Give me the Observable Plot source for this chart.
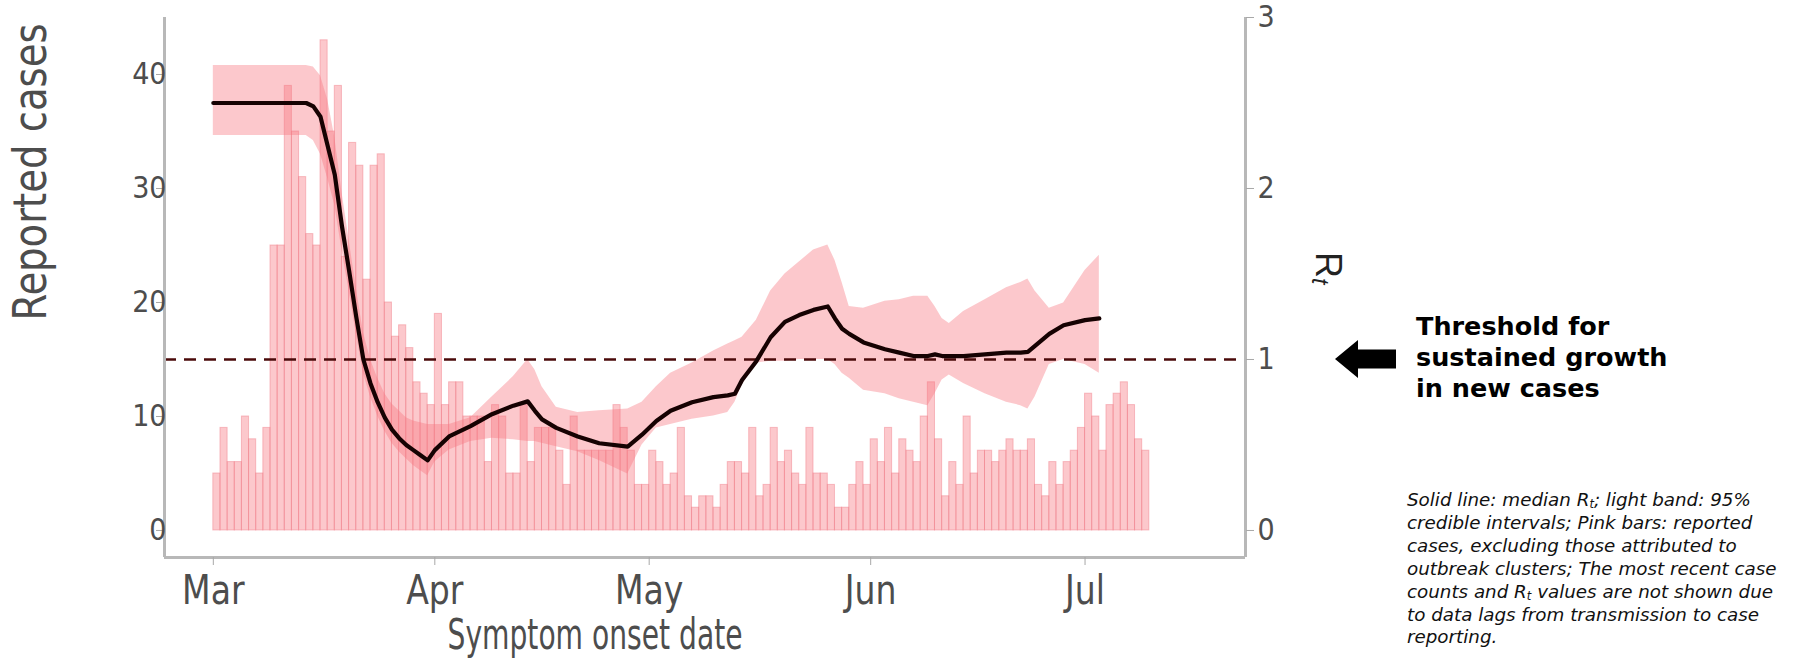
<!DOCTYPE html>
<html>
<head>
<meta charset="utf-8">
<script src="https://cdn.jsdelivr.net/npm/d3@7"></script>
<script src="https://cdn.jsdelivr.net/npm/@observablehq/plot@0.6"></script>
<style>
  html, body { margin: 0; padding: 0; background: #fff; overflow: hidden; }
  #wrap { position: relative; width: 1794px; height: 659px; overflow: hidden; }
  #chart { position: absolute; left: 0; top: 0; }
  #chart svg { overflow: visible; }
  #chart g[aria-label="y-axis tick"], #chart g[aria-label="x-axis tick"] { stroke: #a8a8a8; }
  #thr { position: absolute; left: 1416px; top: 311px; font-family: "DejaVu Sans", "Open Sans", sans-serif; font-weight: 700; font-size: 25.5px; line-height: 31px; color: #000; white-space: nowrap; }
  #cap { position: absolute; left: 1407px; top: 489px; font-family: "DejaVu Sans", "Open Sans", sans-serif; font-style: italic; font-size: 18.3px; line-height: 22.9px; color: #111; white-space: nowrap; }
  #cap sub { font-size: 11.5px; vertical-align: -2px; line-height: 0; }
  #rt { position: absolute; left: 1310px; top: 252px; width: 36px; height: 44px; writing-mode: vertical-rl; font-family: "Liberation Sans", Arial, sans-serif; font-size: 36px; line-height: 36px; color: #222; }
  #rt sub { font-size: 23px; font-style: italic; }
  #arrow { position: absolute; left: 1335px; top: 340px; }
</style>
</head>
<body>
<div id="wrap">
  <div id="chart"></div>
  <div id="rt">R<sub>t</sub></div>
  <svg id="arrow" width="62" height="38" viewBox="0 0 62 38"><polygon points="0,19 23,0 23,9.5 61,9.5 61,28.5 23,28.5 23,38" fill="#000"/></svg>
  <div id="thr">Threshold for<br>sustained growth<br>in new cases</div>
  <div id="cap">Solid line: median R<sub>t</sub>; light band: 95%<br>credible intervals; Pink bars: reported<br>cases, excluding those attributed to<br>outbreak clusters; The most recent case<br>counts and R<sub>t</sub> values are not shown due<br>to data lags from transmission to case<br>reporting.</div>
</div>
<script>
// ---- Data ----
const firstCaseDate = "2020-03-01";
// Daily reported cases, Mar 1 – Jul 9 2020
const casesMar = [5,9,6,6,10,8,5,9,25,25,39,35,31,26,25,43,35,39,24,34,32,22,32,33,20,17,18,16,13,12,11];
const casesApr = [19,11,13,13,10,10,10,6,11,10,5,5,11,6,9,9,9,7,4,10,7,7,7,7,7,11,9,7,4,4];
const casesMay = [7,6,4,5,9,3,2,3,3,2,4,6,6,5,9,3,4,9,6,7,5,4,9,5,5,4,2,2,4,6,4];
const casesJun = [8,6,9,5,8,7,6,10,13,8,3,6,4,10,5,7,7,6,7,8,7,7,8,4,3,6,4,6,7,9];
const casesJul = [12,10,7,11,12,13,11,8,7];

// Rt estimates (median, lower and upper 95% credible interval)
const rtDates = ["2020-03-01","2020-03-14","2020-03-15","2020-03-16","2020-03-17","2020-03-18","2020-03-19","2020-03-20","2020-03-21","2020-03-22","2020-03-23","2020-03-24","2020-03-25","2020-03-26","2020-03-27","2020-03-28","2020-03-29","2020-03-30","2020-03-31","2020-04-01","2020-04-03","2020-04-06","2020-04-09","2020-04-12","2020-04-14","2020-04-15","2020-04-16","2020-04-18","2020-04-21","2020-04-24","2020-04-28","2020-04-30","2020-05-02","2020-05-04","2020-05-07","2020-05-10","2020-05-12","2020-05-13","2020-05-14","2020-05-16","2020-05-18","2020-05-20","2020-05-22","2020-05-24","2020-05-26","2020-05-27","2020-05-28","2020-05-29","2020-05-31","2020-06-03","2020-06-05","2020-06-07","2020-06-09","2020-06-10","2020-06-11","2020-06-12","2020-06-14","2020-06-17","2020-06-20","2020-06-22","2020-06-23","2020-06-24","2020-06-26","2020-06-28","2020-07-01","2020-07-03"];
const rtMedian = [2.50,2.50,2.48,2.42,2.25,2.08,1.78,1.52,1.25,1.00,0.86,0.75,0.66,0.59,0.54,0.50,0.47,0.44,0.41,0.47,0.55,0.61,0.68,0.73,0.755,0.70,0.65,0.60,0.55,0.51,0.49,0.56,0.64,0.70,0.75,0.78,0.79,0.80,0.88,0.99,1.13,1.22,1.26,1.29,1.31,1.24,1.18,1.15,1.10,1.06,1.04,1.02,1.02,1.03,1.02,1.02,1.02,1.03,1.04,1.04,1.045,1.08,1.15,1.20,1.23,1.24];
const rtLower = [2.31,2.31,2.28,2.20,2.06,1.90,1.64,1.40,1.15,0.92,0.78,0.67,0.58,0.51,0.46,0.42,0.38,0.35,0.32,0.40,0.47,0.52,0.54,0.53,0.52,0.52,0.51,0.49,0.46,0.41,0.33,0.50,0.60,0.62,0.65,0.67,0.69,0.75,0.85,0.98,0.99,0.99,1.00,1.00,1.00,0.97,0.92,0.89,0.82,0.80,0.77,0.75,0.73,0.80,0.88,0.91,0.86,0.80,0.75,0.73,0.71,0.78,0.97,1.00,0.97,0.92];
const rtUpper = [2.72,2.72,2.71,2.66,2.52,2.30,1.98,1.70,1.42,1.16,1.00,0.89,0.80,0.74,0.70,0.66,0.64,0.63,0.62,0.62,0.62,0.66,0.78,0.90,1.00,0.94,0.84,0.72,0.69,0.70,0.71,0.75,0.84,0.92,0.98,1.05,1.09,1.11,1.13,1.23,1.40,1.50,1.57,1.64,1.67,1.58,1.45,1.31,1.30,1.34,1.35,1.37,1.37,1.31,1.24,1.21,1.28,1.35,1.42,1.45,1.47,1.40,1.30,1.33,1.52,1.61];

const rtThreshold = [1];
const leftTicks = [0,10,20,30,40];
const rightTickLabels = [0,1,2,3];
const monthTicks = ["2020-03-01","2020-04-01","2020-05-01","2020-06-01","2020-07-01"];

// ---- Build tables ----
const RT = 15; // 1 unit of Rt on the right axis = 15 reported cases on the left axis
const allCases = [...casesMar, ...casesApr, ...casesMay, ...casesJun, ...casesJul];
const d0 = new Date(firstCaseDate + "T00:00Z");
const bars = allCases.map((n, i) => ({
  d1: d3.utcDay.offset(d0, i),
  d2: d3.utcDay.offset(d0, i + 1),
  n
}));
const rt = rtDates.map((s, i) => ({
  date: new Date(s + "T00:00Z"),
  med: rtMedian[i], lo: rtLower[i], hi: rtUpper[i]
}));

const xDomain = [new Date("2020-02-23T04:00Z"), new Date("2020-07-23T11:00Z")];
const yDomain = [-2.37, 45];
const axisGray = "#b8b8b8";
const textGray = "#4d4d4d";
const condensed = '"DejaVu Sans Condensed", "Liberation Sans Narrow", "Liberation Sans", Arial, sans-serif';

const chart = Plot.plot({
  width: 1794,
  height: 659,
  marginLeft: 164,
  marginRight: 549,
  marginTop: 17,
  marginBottom: 102,
  x: { type: "utc", domain: xDomain },
  y: { domain: yDomain },
  style: { fontFamily: condensed, background: "transparent" },
  marks: [
    Plot.rectY(bars, { x1: "d1", x2: "d2", y: "n", fill: "#f7767f", fillOpacity: 0.4, stroke: "#f07a84", strokeOpacity: 0.45, strokeWidth: 1 }),
    Plot.areaY(rt, { x: "date", y1: d => d.lo * RT, y2: d => d.hi * RT, fill: "#f7767f", fillOpacity: 0.4 }),
    Plot.ruleY(rtThreshold, { y: d => d * RT, stroke: "#4a0a0a", strokeWidth: 2.6, strokeDasharray: "12,8" }),
    Plot.lineY(rt, { x: "date", y: d => d.med * RT, stroke: "#160202", strokeWidth: 4.2, curve: "linear" }),
    Plot.ruleX([xDomain[0], xDomain[1]], { stroke: axisGray, strokeWidth: 3 }),
    Plot.ruleY([yDomain[0]], { stroke: axisGray, strokeWidth: 3 }),
    Plot.axisY(leftTicks, { anchor: "left", tickSize: 8, tickPadding: -10, fontSize: 30, color: textGray, label: null }),
    Plot.axisY(rightTickLabels.map(v => v * RT), { anchor: "right", tickSize: 8, tickPadding: 4, fontSize: 30, color: textGray, tickFormat: v => v / RT, label: null }),
    Plot.axisX(monthTicks.map(s => new Date(s + "T00:00Z")), { anchor: "bottom", tickSize: 8, tickPadding: 10, fontSize: 40, color: textGray, tickFormat: d3.utcFormat("%b"), label: null }),
    Plot.text(["Reported cases"], { text: d => d, frameAnchor: "left", dx: -133, dy: 33, rotate: -90, fontSize: 46, fill: textGray, lineAnchor: "middle" }),
    Plot.text(["Symptom onset date"], { text: d => d, frameAnchor: "bottom", dx: -110, dy: 78, fontSize: 42, fill: textGray, lineAnchor: "middle" })
  ]
});
document.getElementById("chart").appendChild(chart);

// Squeeze the axis titles / month labels to the narrow lettering of the original
const svg = d3.select(chart);
const fitText = (label, length) => svg.selectAll("text")
  .filter(function () { return this.textContent === label; })
  .attr("textLength", length).attr("lengthAdjust", "spacingAndGlyphs");
fitText("Reported cases", 297);
fitText("Symptom onset date", 295);
svg.selectAll('g[aria-label="x-axis tick label"] text').each(function () {
  const w = this.getComputedTextLength();
  d3.select(this).attr("textLength", w * 0.92).attr("lengthAdjust", "spacingAndGlyphs");
});
</script>
</body>
</html>
